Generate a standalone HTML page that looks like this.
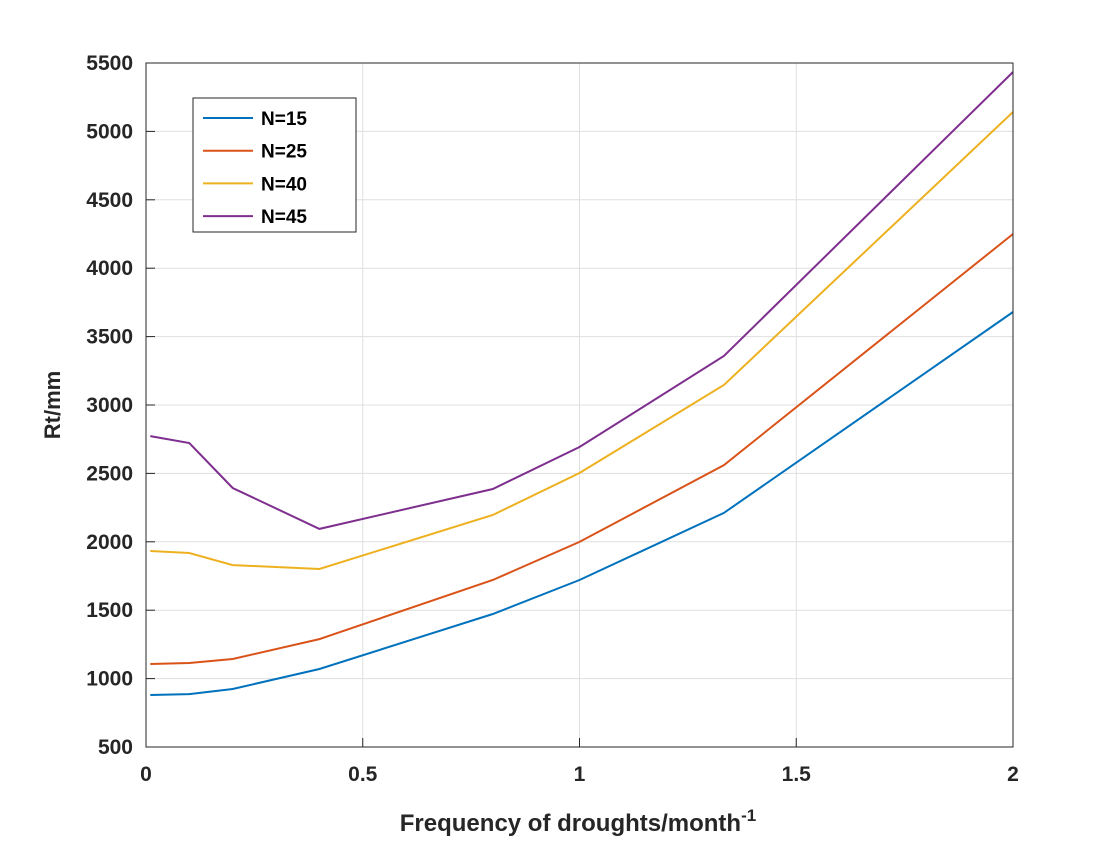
<!DOCTYPE html>
<html><head><meta charset="utf-8"><style>
html,body{margin:0;padding:0;background:#fff;}
svg text{font-family:"Liberation Sans",Arial,sans-serif;font-weight:bold;}
</style></head><body>
<svg id="chart" width="1120" height="840" viewBox="0 0 1120 840" xmlns="http://www.w3.org/2000/svg">
<rect x="0" y="0" width="1120" height="840" fill="#fff"/>
<g id="grid"></g>
<g id="series"></g>
<rect x="146" y="63" width="867" height="684" fill="none" stroke="#262626" stroke-width="1"/>
<g id="ticks"></g>
<text x="60" y="405" font-size="22" fill="#262626" text-anchor="middle" transform="rotate(-90 60 405)">Rt/mm</text>
<text x="578" y="831" font-size="24" fill="#262626" text-anchor="middle">Frequency of droughts/month<tspan font-size="17" dy="-10">-1</tspan></text>
<g id="legend">
<rect x="193" y="98" width="163" height="134" fill="#fff" stroke="#262626" stroke-width="1"/>
</g>
</svg>
<script>
const xs = [0.01, 0.1, 0.2, 0.4, 0.8, 1.0, 1.333, 2.0];
const n15 = [880, 887, 924, 1070, 1472, 1721, 2211, 3680];
const n25 = [1107, 1114, 1143, 1289, 1721, 1999, 2561, 4250];
const n40 = [1933, 1918, 1830, 1801, 2196, 2503, 3146, 5142];
const n45 = [2773, 2722, 2393, 2094, 2386, 2693, 3358, 5434];
const seriesNames = ["N=15", "N=25", "N=40", "N=45"];
const xTicks = [0, 0.5, 1, 1.5, 2];
const yTicks = [500, 1000, 1500, 2000, 2500, 3000, 3500, 4000, 4500, 5000, 5500];

const NS = "http://www.w3.org/2000/svg";
const L = 146, R = 1013, T = 63, B = 747;
function sx(v){ return L + (v - 0) / 2 * (R - L); }
function sy(v){ return B - (v - 500) / 5000 * (B - T); }
function mk(tag, attrs, parent){ const e = document.createElementNS(NS, tag); for (const k in attrs) e.setAttribute(k, attrs[k]); parent.appendChild(e); return e; }

const grid = document.getElementById('grid');
const ticks = document.getElementById('ticks');
xTicks.forEach(t => {
  const x = sx(t);
  const g = mk('line', {x1:x, x2:x, y1:T, y2:B, stroke:'#dfdfdf', 'stroke-width':1}, grid);
  
  
  const tk = mk('line', {x1:x, x2:x, y1:B, y2:B-9, stroke:'#262626'}, ticks);
  
  
  const lb = mk('text', {x:x, y:781, 'font-size':21, fill:'#262626', 'text-anchor':'middle'}, ticks);
  lb.textContent = String(t);
  
  
});
yTicks.forEach(t => {
  const y = sy(t);
  const g = mk('line', {x1:L, x2:R, y1:y, y2:y, stroke:'#dfdfdf', 'stroke-width':1}, grid);
  
  
  const tk = mk('line', {x1:L, x2:L+9, y1:y, y2:y, stroke:'#262626'}, ticks);
  
  
  const lb = mk('text', {x:133, y:y+7, 'font-size':21, fill:'#262626', 'text-anchor':'end'}, ticks);
  lb.textContent = String(t);
  
  
});

const colors = ['#0072BD', '#D95319', '#EDB120', '#7E2F8E'];
const allSeries = [n15, n25, n40, n45];
const sg = document.getElementById('series');
const lg = document.getElementById('legend');
allSeries.forEach((vals, i) => {
  const pts = vals.map((v, j) => sx(xs[j]).toFixed(1) + ',' + sy(v).toFixed(1)).join(' ');
  const pl = mk('polyline', {points:pts, fill:'none', stroke:colors[i], 'stroke-width':2}, sg);
  
  
  const ly = 118 + i * 32.7;
  const ll = mk('line', {x1:203, x2:253, y1:ly, y2:ly, stroke:colors[i], 'stroke-width':2}, lg);
  
  
  const lt = mk('text', {x:261, y:ly+7, 'font-size':19, fill:'#000'}, lg);
  lt.textContent = seriesNames[i];
  
  
});
</script>
</body></html>
